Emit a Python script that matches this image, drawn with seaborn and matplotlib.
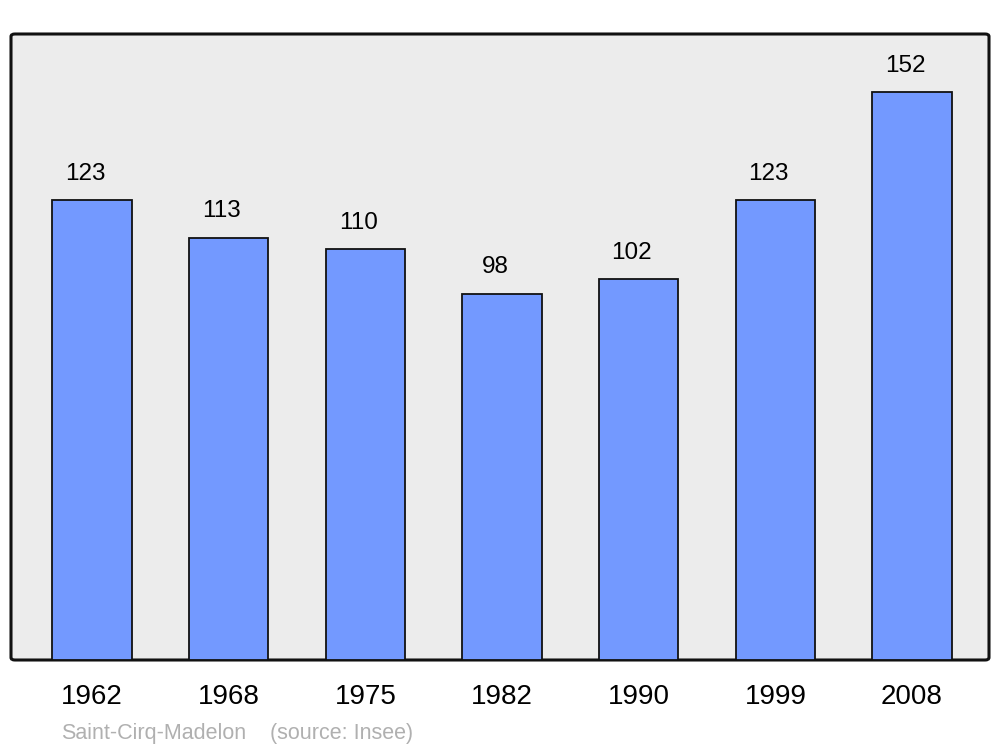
import matplotlib
matplotlib.use("Agg")
import matplotlib.pyplot as plt
import seaborn as sns
import pandas as pd
from matplotlib.patches import FancyBboxPatch

years = ["1962", "1968", "1975", "1982", "1990", "1999", "2008"]
population = [123, 113, 110, 98, 102, 123, 152]
caption_left = "Saint-Cirq-Madelon"
caption_right = "(source: Insee)"

sns.set_theme(style="white")
plt.rcParams['font.family'] = ['Liberation Sans', 'DejaVu Sans']

df = pd.DataFrame({"year": years, "pop": population})

fig = plt.figure(figsize=(10, 7.47), dpi=100)
ax = fig.add_axes([0.011, 1 - 660/747, 0.978, (660 - 34)/747])
ax.set_facecolor("none")

# rounded background frame
bg = FancyBboxPatch((0, 0), 1, 1, boxstyle="round,pad=0,rounding_size=0.004",
                    transform=ax.transAxes, facecolor="#ececec", edgecolor="#111111",
                    linewidth=2.2, zorder=0, clip_on=False)
ax.add_patch(bg)

sns.barplot(data=df, x="year", y="pop", ax=ax, color="#7399ff", saturation=1,
            width=0.58, edgecolor="#111111", linewidth=1.3, zorder=2)

ax.set_xlim(-0.593, 6.563)
ax.set_ylim(0, 167.5)
for s in ax.spines.values():
    s.set_visible(False)
ax.set_yticks([])
ax.set_xlabel("")
ax.set_ylabel("")
ax.tick_params(axis="x", length=0, pad=17, labelsize=20, colors="black")

for i, v in enumerate(population):
    ax.annotate(str(v), (i, v), xytext=(-5, 11), textcoords="offset points",
                ha="center", va="bottom", fontsize=17.5, color="black")

fig.text(61/1000, 1 - 733/747, caption_left, fontsize=15.5, color="#b0b0b0", va="center", ha="left")
fig.text(270/1000, 1 - 733/747, caption_right, fontsize=15.5, color="#b0b0b0", va="center", ha="left")

fig.savefig("out.png", dpi=100)
